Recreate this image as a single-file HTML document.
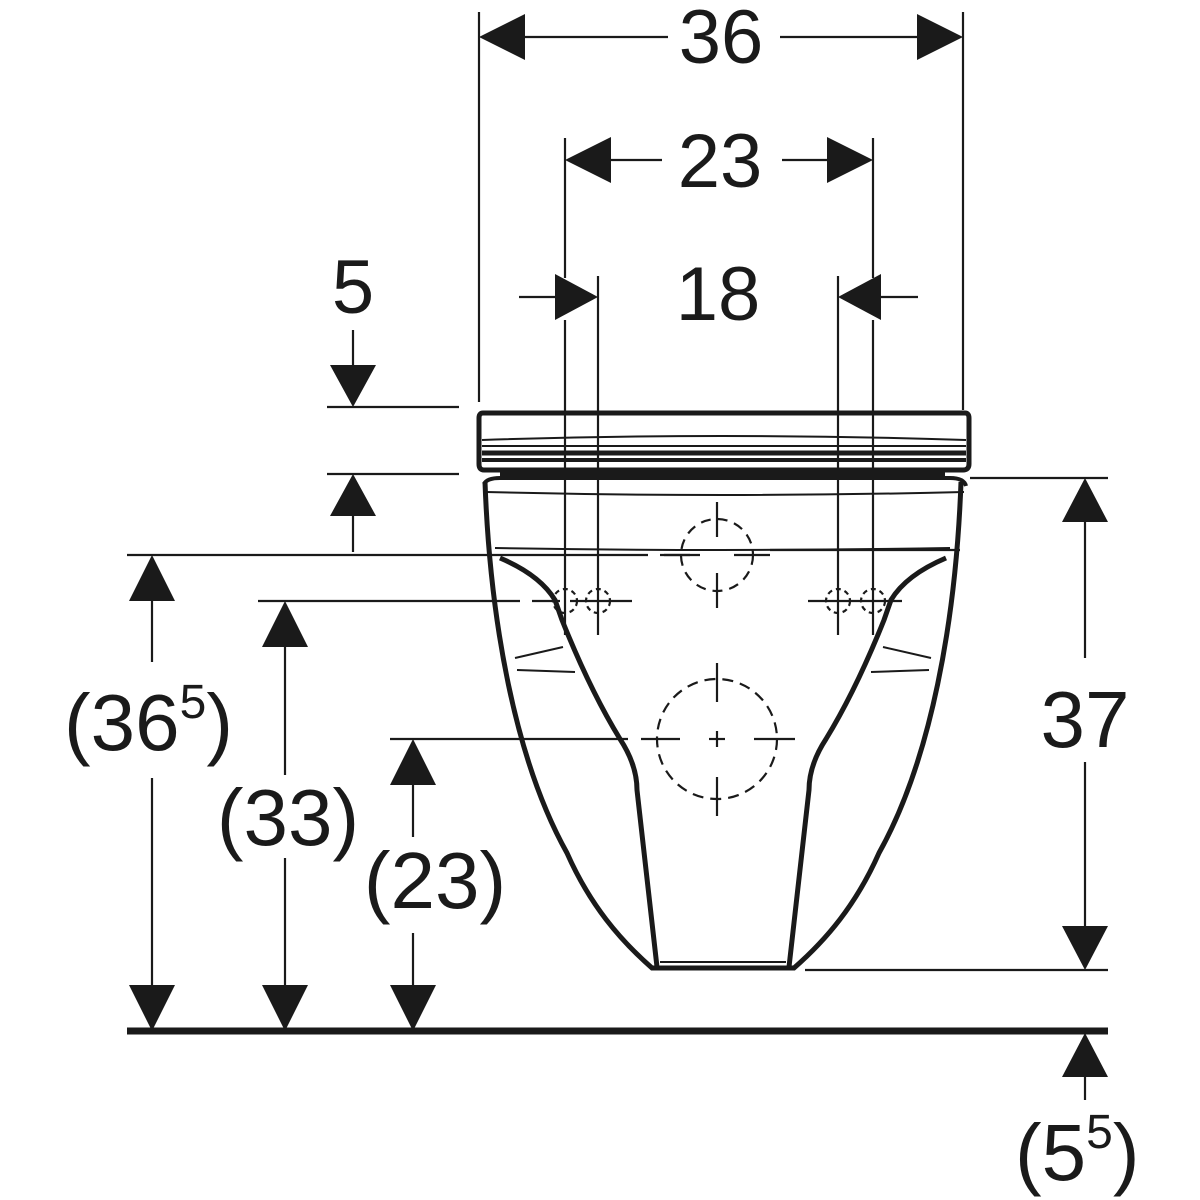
<!DOCTYPE html>
<html><head><meta charset="utf-8"><style>html,body{margin:0;padding:0;background:#fff}svg{display:block}text{font-family:"Liberation Sans",sans-serif;fill:#1a1a1a}</style></head>
<body>
<svg width="1200" height="1200" viewBox="0 0 1200 1200" xmlns="http://www.w3.org/2000/svg">
<g stroke="#1a1a1a" fill="none" stroke-width="2.2">
<line x1="479" y1="12" x2="479" y2="402"/><line x1="963" y1="12" x2="963" y2="410"/>
<line x1="520" y1="37" x2="668" y2="37"/><line x1="780" y1="37" x2="922" y2="37"/>
<line x1="565" y1="138" x2="565" y2="278"/><line x1="873" y1="138" x2="873" y2="278"/>
<line x1="605" y1="160" x2="662" y2="160"/><line x1="782" y1="160" x2="833" y2="160"/>
<line x1="565" y1="320" x2="565" y2="635"/><line x1="598" y1="276" x2="598" y2="635"/>
<line x1="838" y1="276" x2="838" y2="635"/><line x1="873" y1="320" x2="873" y2="635"/>
<line x1="519" y1="297" x2="560" y2="297"/><line x1="878" y1="297" x2="918" y2="297"/>
<line x1="327" y1="407" x2="459" y2="407"/><line x1="327" y1="474" x2="459" y2="474"/>
<line x1="353" y1="330" x2="353" y2="370"/><line x1="353" y1="512" x2="353" y2="552"/>
<line x1="127" y1="555" x2="648" y2="555"/><line x1="660" y1="555" x2="690" y2="555"/>
<line x1="258" y1="601" x2="520" y2="601"/>
<line x1="390" y1="739" x2="628" y2="739"/>
<line x1="152" y1="595" x2="152" y2="662"/><line x1="152" y1="778" x2="152" y2="990"/>
<line x1="285" y1="641" x2="285" y2="775"/><line x1="285" y1="858" x2="285" y2="990"/>
<line x1="413" y1="779" x2="413" y2="837"/><line x1="413" y1="933" x2="413" y2="990"/>
<line x1="970" y1="478" x2="1108" y2="478"/><line x1="805" y1="970" x2="1108" y2="970"/>
<line x1="1085" y1="518" x2="1085" y2="658"/><line x1="1085" y1="762" x2="1085" y2="930"/>
<line x1="1085" y1="1073" x2="1085" y2="1100"/>
</g>
<line x1="127" y1="1031" x2="1108" y2="1031" stroke="#1a1a1a" stroke-width="7"/>
<g fill="#1a1a1a">
<polygon points="479,37 525,14 525,60"/><polygon points="963,37 917,14 917,60"/>
<polygon points="565,160 611,137 611,183"/><polygon points="873,160 827,137 827,183"/>
<polygon points="598,297 555,274 555,320"/><polygon points="838,297 881,274 881,320"/>
<polygon points="353,407 330,365 376,365"/><polygon points="353,474 330,516 376,516"/>
<polygon points="152,555 129,601 175,601"/><polygon points="152,1031 129,985 175,985"/>
<polygon points="285,601 262,647 308,647"/><polygon points="285,1031 262,985 308,985"/>
<polygon points="413,739 390,785 436,785"/><polygon points="413,1031 390,985 436,985"/>
<polygon points="1085,478 1062,522 1108,522"/><polygon points="1085,970 1062,926 1108,926"/>
<polygon points="1085,1033 1062,1077 1108,1077"/>
</g>
<g stroke="#1a1a1a" fill="none">
<path d="M483,413 L965,413 Q969,413 969,418 L969,464 Q969,470 963,470 L484,470 Q479,470 479,464 L479,418 Q479,413 483,413Z" stroke-width="5"/>
<path d="M482,440 Q720,432 966,440" stroke-width="2"/>
<path d="M482,446 L966,446" stroke-width="2"/>
<line x1="482" y1="453" x2="966" y2="453" stroke-width="5"/>
<line x1="482" y1="460" x2="966" y2="460" stroke-width="4"/>
<path d="M500,475 L945,475" stroke-width="10"/>
<path d="M484,484 Q487,478 500,478 L950,478 Q964,478 966,486" stroke-width="4"/>
<path d="M486,492 Q720,498 964,492" stroke-width="2"/>
<path d="M485,482 C490,620 515,760 567,853 C590,905 620,940 652,968 L794,968 C826,940 856,905 879,853 C931,760 956,620 961,482" stroke-width="5"/>
<path d="M495,548 Q720,552 950,548" stroke-width="2"/>
<path d="M500,558 Q540,575 555,600 L562,620 Q590,690 620,739 Q637,765 637,790 L657,967" stroke-width="5"/>
<path d="M946,558 Q906,575 891,600 L884,620 Q856,690 826,739 Q809,765 809,790 L789,967" stroke-width="5"/>
<path d="M515,658 L563,647 M517,670 L575,672 M931,658 L883,647 M929,670 L871,672" stroke-width="2"/>
<line x1="660" y1="962" x2="786" y2="962" stroke-width="2"/>
</g>
<g stroke="#1a1a1a" fill="none" stroke-width="2.2">
<circle cx="717" cy="555" r="36" stroke-dasharray="10,7"/>
<line x1="717" y1="502" x2="717" y2="537"/><line x1="717" y1="573" x2="717" y2="608"/>
<line x1="664" y1="555" x2="700" y2="555"/><line x1="734" y1="555" x2="770" y2="555"/>
<line x1="770" y1="550" x2="960" y2="550"/>
<circle cx="717" cy="739" r="60" stroke-dasharray="11,7"/>
<line x1="717" y1="663" x2="717" y2="702"/><line x1="717" y1="777" x2="717" y2="816"/>
<line x1="641" y1="739" x2="680" y2="739"/><line x1="754" y1="739" x2="795" y2="739"/>
<line x1="709" y1="739" x2="725" y2="739"/><line x1="717" y1="731" x2="717" y2="747"/>
<line x1="532" y1="601" x2="560" y2="601"/><line x1="570" y1="601" x2="632" y2="601"/>
<line x1="808" y1="601" x2="902" y2="601"/>
<circle cx="565" cy="601" r="12" stroke-dasharray="5,4"/><circle cx="598" cy="601" r="12" stroke-dasharray="5,4"/>
<circle cx="838" cy="601" r="12" stroke-dasharray="5,4"/><circle cx="873" cy="601" r="12" stroke-dasharray="5,4"/>
</g>
<text x="721" y="63" font-size="76" text-anchor="middle">36</text>
<text x="720" y="187" font-size="76" text-anchor="middle">23</text>
<text x="718" y="320" font-size="76" text-anchor="middle">18</text>
<text x="353" y="313" font-size="76" text-anchor="middle">5</text>
<text x="64" y="750" font-size="80">(36<tspan font-size="48" dy="-32">5</tspan><tspan dy="32">)</tspan></text>
<text x="288" y="845" font-size="80" text-anchor="middle">(33)</text>
<text x="435" y="908" font-size="80" text-anchor="middle">(23)</text>
<text x="1085" y="747" font-size="80" text-anchor="middle">37</text>
<text x="1015" y="1180" font-size="80">(5<tspan font-size="48" dy="-32">5</tspan><tspan dy="32">)</tspan></text>
</svg>
</body></html>
